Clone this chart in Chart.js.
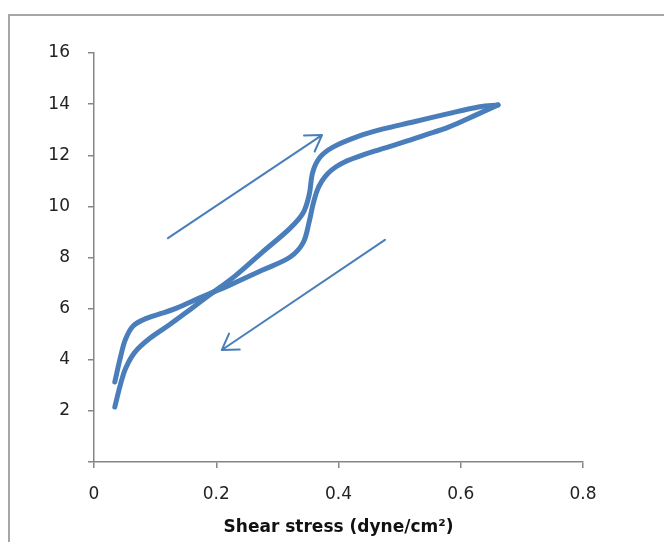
<!DOCTYPE html>
<html>
<head>
<meta charset="utf-8">
<script src="https://cdn.jsdelivr.net/npm/chart.js@4.4.1/dist/chart.umd.min.js"></script>
<style>
  html, body { margin: 0; padding: 0; background: #fff; }
  #wrap { width: 664px; height: 542px; position: relative; }
</style>
</head>
<body>
<div id="wrap"><canvas id="loopChart" width="664" height="542"></canvas></div>
<script>
// ─── Data ─────────────────────────────────────────────────────────────────────

// loading branch, from the lower start point up to the tip
const shearUp = [0.034, 0.043, 0.052, 0.067, 0.092, 0.124, 0.157, 0.190, 0.231, 0.276,
                 0.321, 0.342, 0.352, 0.358, 0.370, 0.391, 0.430, 0.473, 0.522, 0.578, 0.631, 0.661];
const rateUp  = [2.15, 3.01, 3.68, 4.30, 4.85, 5.38, 5.96, 6.55, 7.28, 8.22,
                 9.15, 9.74, 10.45, 11.35, 11.93, 12.32, 12.72, 13.03, 13.30, 13.62, 13.90, 13.97];

// unloading branch, from the tip back down
const shearDown = [0.661, 0.627, 0.580, 0.540, 0.500, 0.460, 0.430, 0.410, 0.396, 0.383, 0.373, 0.365,
                   0.358, 0.352, 0.342, 0.321, 0.276, 0.222, 0.173, 0.136, 0.113, 0.087, 0.064, 0.051, 0.043, 0.034];
const rateDown  = [13.97, 13.60, 13.10, 12.78, 12.46, 12.17, 11.93, 11.74, 11.55, 11.30, 11.00, 10.62,
                   10.05, 9.39, 8.57, 8.02, 7.51, 6.92, 6.42, 6.03, 5.83, 5.63, 5.32, 4.77, 4.07, 3.13];

// direction arrows: [x0, y0, x1, y1] in data units, head at (x1, y1)
const arrowUp   = [0.121, 8.76, 0.373, 12.79];
const arrowDown = [0.476, 8.69, 0.209, 4.38];

const xTicks = [0, 0.2, 0.4, 0.6, 0.8];
const yTicks = [2, 4, 6, 8, 10, 12, 14, 16];

const BLUE = '#4A7EBB';
const AXIS = '#868686';

// ─── Helpers ──────────────────────────────────────────────────────────────────

function zipPoints(xs, ys) {
  return xs.map((x, i) => ({ x, y: ys[i] }));
}

function branch(points) {
  return {
    data: points,
    showLine: true,
    borderColor: BLUE,
    borderWidth: 5,
    borderCapStyle: 'round',
    borderJoinStyle: 'round',
    pointRadius: 0,
    tension: 0.35,
  };
}

function drawArrow(chart, a) {
  const { ctx, scales: { x, y } } = chart;
  const x0 = x.getPixelForValue(a[0]), y0 = y.getPixelForValue(a[1]);
  const x1 = x.getPixelForValue(a[2]), y1 = y.getPixelForValue(a[3]);
  const ang = Math.atan2(y1 - y0, x1 - x0);
  const head = 18, spread = Math.PI / 5.6;

  ctx.save();
  ctx.strokeStyle = BLUE;
  ctx.lineWidth = 2;
  ctx.lineCap = 'round';
  ctx.lineJoin = 'round';
  ctx.beginPath();
  ctx.moveTo(x0, y0);
  ctx.lineTo(x1, y1);
  ctx.moveTo(x1 - head * Math.cos(ang - spread), y1 - head * Math.sin(ang - spread));
  ctx.lineTo(x1, y1);
  ctx.lineTo(x1 - head * Math.cos(ang + spread), y1 - head * Math.sin(ang + spread));
  ctx.stroke();
  ctx.restore();
}

const framePlugin = {
  id: 'frame',
  beforeDraw(chart) {
    const ctx = chart.ctx;
    ctx.save();
    ctx.fillStyle = '#fff';
    ctx.fillRect(0, 0, chart.width, chart.height);
    ctx.strokeStyle = '#a6a6a6';
    ctx.lineWidth = 2;
    ctx.strokeRect(9, 15, chart.width + 20, chart.height + 20);
    ctx.restore();
  },
};

const arrowPlugin = {
  id: 'arrows',
  afterDatasetsDraw(chart) {
    drawArrow(chart, arrowUp);
    drawArrow(chart, arrowDown);
  },
};

// ─── Chart ────────────────────────────────────────────────────────────────────

new Chart(document.getElementById('loopChart'), {
  type: 'scatter',
  data: {
    datasets: [
      branch(zipPoints(shearUp, rateUp)),
      branch(zipPoints(shearDown, rateDown)),
    ],
  },
  options: {
    responsive: false,
    animation: false,
    layout: { padding: { left: 0, right: 81, top: 53, bottom: 0 } },
    plugins: {
      legend:  { display: false },
      tooltip: { enabled: false },
    },
    scales: {
      x: {
        type: 'linear',
        min: 0,
        max: 0.8,
        afterBuildTicks: (s) => { s.ticks = xTicks.map(v => ({ value: v })); },
        afterFit: (s) => { s.height = 80; },
        grid:   { drawOnChartArea: false, drawTicks: true, tickLength: 6, color: AXIS, lineWidth: 1.5 },
        border: { color: AXIS, width: 1.5 },
        ticks:  { padding: 16, color: '#222', font: { family: 'DejaVu Sans', size: 17 },
                  callback: (v) => String(v) },
        title:  { display: true, text: 'Shear stress (dyne/cm²)', color: '#111',
                  font: { family: 'DejaVu Sans', size: 17, weight: 'bold' },
                  padding: { top: 0, bottom: 4 } },
      },
      y: {
        type: 'linear',
        min: 0,
        max: 16,
        afterBuildTicks: (s) => { s.ticks = [0].concat(yTicks).map(v => ({ value: v })); },
        afterFit: (s) => { s.width = 94; },
        grid:   { drawOnChartArea: false, drawTicks: true, tickLength: 6, color: AXIS, lineWidth: 1.5 },
        border: { color: AXIS, width: 1.5 },
        ticks:  { padding: 18, color: '#222', font: { family: 'DejaVu Sans', size: 17 },
                  callback: (v) => (v === 0 ? '' : String(v)) },
      },
    },
  },
  plugins: [framePlugin, arrowPlugin],
});
</script>
</body>
</html>
